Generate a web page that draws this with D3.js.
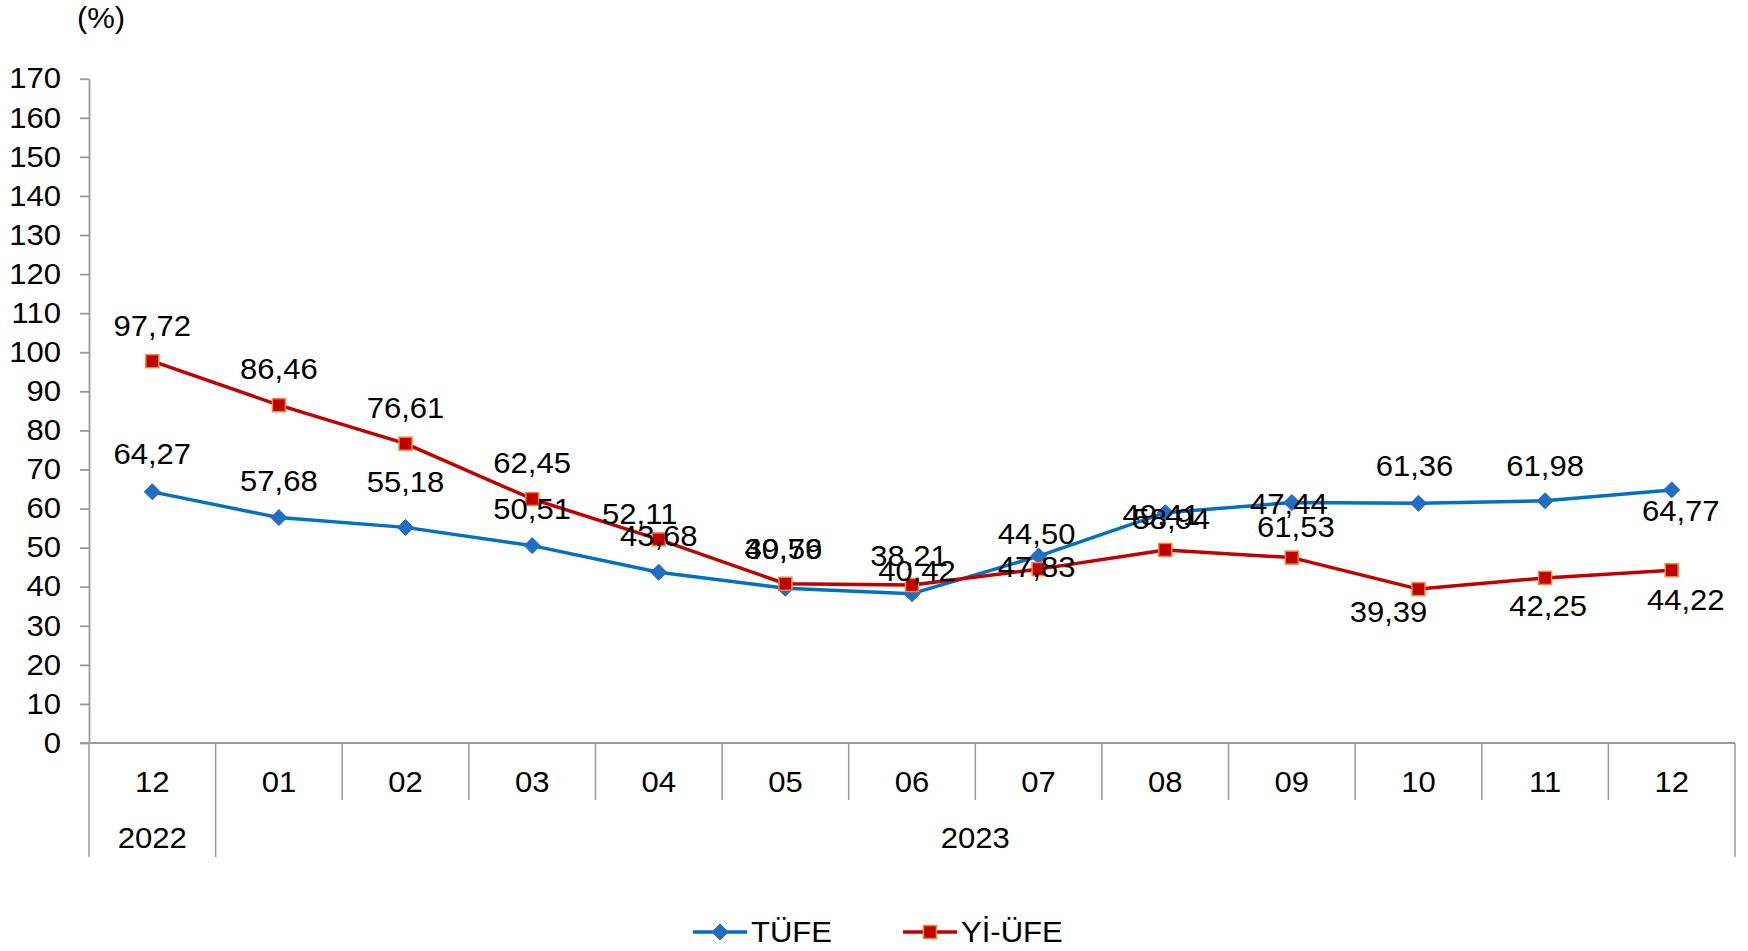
<!DOCTYPE html>
<html>
<head>
<meta charset="utf-8">
<script src="https://cdn.jsdelivr.net/npm/d3@7"></script>
<style>
  body { margin: 0; background: #fff; }
  text { font-family: "Liberation Sans", Arial, sans-serif; fill: #000; }
</style>
</head>
<body>
<svg id="chart" width="1748" height="951"></svg>
<script>
// data
const months = ["12", "01", "02", "03", "04", "05", "06", "07", "08", "09", "10", "11", "12"];
const years = [{ label: "2022", from: 0, to: 0 }, { label: "2023", from: 1, to: 12 }];
const tufe = [64.27, 57.68, 55.18, 50.51, 43.68, 39.59, 38.21, 47.83, 58.94, 61.53, 61.36, 61.98, 64.77];
const yiufe = [97.72, 86.46, 76.61, 62.45, 52.11, 40.76, 40.42, 44.50, 49.41, 47.44, 39.39, 42.25, 44.22];
const yTicks = d3.range(0, 171, 10);

// label nudges (px) copied from the original layout, where labels were moved by hand
const tufeLabelNudge = [[0,-38],[0,-37],[0,-46],[0,-37],[0,-36],[-2,-39],[-3,-38],[-2,11],[6,6],[4,24],[-4,-37],[0,-35],[9,21]];
const yiufeLabelNudge = [[0,-35],[0,-36],[0,-36],[0,-36],[-19,-26],[-2,-35],[5,-14],[-2,-35],[-4,-35],[-3,-54],[-30,23],[3,28],[14,30]];

const svg = d3.select("#chart");
const axisColor = "#9a9a9a";
const fontSize = "29px";
const stretch = 1.07; // original text is a bit wider than Liberation Sans

// move x/y into a transform so the glyphs can be widened
function widen(sel) {
  sel.each(function () {
    const t = d3.select(this);
    const tx = +t.attr("x") || 0, ty = +t.attr("y") || 0;
    t.attr("x", 0).attr("y", 0)
      .attr("transform", "translate(" + tx + "," + ty + ") scale(" + stretch + ",1)");
  });
}

const idx = months.map((d, i) => i);
const x = d3.scaleBand().domain(idx).range([89, 1735]).padding(0);
const y = d3.scaleLinear().domain([0, 170]).range([743, 78.7]);
const cx = i => x(i) + x.bandwidth() / 2;

// y axis
const yAxis = svg.append("g")
  .attr("transform", "translate(" + x.range()[0] + ",0)")
  .call(d3.axisLeft(y).tickValues(yTicks).tickSize(9).tickSizeOuter(0).tickPadding(19).tickFormat(d => d));
yAxis.selectAll("line, path").attr("stroke", axisColor).attr("stroke-width", 1.8);
yAxis.selectAll("text").style("font-size", fontSize).attr("fill", "#000").call(widen);

svg.append("text")
  .attr("x", 101).attr("y", 18)
  .attr("text-anchor", "middle").attr("dominant-baseline", "central")
  .style("font-size", fontSize)
  .text("(%)").call(widen);

// x axis baseline
svg.append("line")
  .attr("x1", x.range()[0] - 9).attr("x2", x.range()[1])
  .attr("y1", y(0)).attr("y2", y(0))
  .attr("stroke", axisColor).attr("stroke-width", 1.8);

// category separators: long ones mark the year boundaries
const yearEdges = new Set();
years.forEach(yr => { yearEdges.add(yr.from); yearEdges.add(yr.to + 1); });
svg.selectAll(".sep")
  .data(d3.range(months.length + 1))
  .enter().append("line")
  .attr("x1", i => x.range()[0] + i * x.step())
  .attr("x2", i => x.range()[0] + i * x.step())
  .attr("y1", y(0))
  .attr("y2", i => yearEdges.has(i) ? y(0) + 114 : y(0) + 57)
  .attr("stroke", axisColor).attr("stroke-width", 1.5);

svg.selectAll(".month")
  .data(months)
  .enter().append("text")
  .attr("x", (d, i) => cx(i))
  .attr("y", y(0) + 39)
  .attr("text-anchor", "middle").attr("dominant-baseline", "central")
  .style("font-size", fontSize)
  .text(d => d).call(widen);

svg.selectAll(".year")
  .data(years)
  .enter().append("text")
  .attr("x", d => (x(d.from) + x(d.to) + x.bandwidth()) / 2)
  .attr("y", y(0) + 95)
  .attr("text-anchor", "middle").attr("dominant-baseline", "central")
  .style("font-size", fontSize)
  .text(d => d.label).call(widen);

// series
const series = [
  { name: "TÜFE", values: tufe, nudge: tufeLabelNudge, color: "#0070C0", marker: "diamond" },
  { name: "Yİ-ÜFE", values: yiufe, nudge: yiufeLabelNudge, color: "#C00000", marker: "square" }
];

const line = d3.line().x((d, i) => cx(i)).y(d => y(d));

function drawMarker(g, type, px, py) {
  if (type === "diamond") {
    g.append("path")
      .attr("d", "M" + px + "," + (py - 8) + "L" + (px + 8) + "," + py + "L" + px + "," + (py + 8) + "L" + (px - 8) + "," + py + "Z")
      .attr("fill", "#1F6FC6").attr("stroke", "#2a62b8").attr("stroke-width", 1);
  } else {
    g.append("rect")
      .attr("x", px - 6.5).attr("y", py - 6.5)
      .attr("width", 13).attr("height", 13)
      .attr("fill", "#C00000").attr("stroke", "#F0883A").attr("stroke-width", 1.5);
  }
}

series.forEach(s => {
  svg.append("path")
    .datum(s.values)
    .attr("d", line)
    .attr("fill", "none")
    .attr("stroke", s.color)
    .attr("stroke-width", 3.5)
    .attr("stroke-linejoin", "round");
  const mg = svg.append("g");
  s.values.forEach((v, i) => drawMarker(mg, s.marker, cx(i), y(v)));
});

// data labels drawn over everything
series.forEach(s => {
  svg.selectAll(null)
    .data(s.values)
    .enter().append("text")
    .attr("x", (d, i) => cx(i) + s.nudge[i][0])
    .attr("y", (d, i) => y(d) + s.nudge[i][1])
    .attr("text-anchor", "middle").attr("dominant-baseline", "central")
    .style("font-size", fontSize)
    .text(d => d.toFixed(2).replace(".", ","))
    .call(widen);
});

// legend
const legend = svg.append("g").attr("transform", "translate(693,932)");
series.forEach((s, k) => {
  const lg = legend.append("g").attr("transform", "translate(" + (k * 210) + ",0)");
  lg.append("line").attr("x1", 0).attr("x2", 54).attr("y1", 0).attr("y2", 0)
    .attr("stroke", s.color).attr("stroke-width", 3.5);
  drawMarker(lg, s.marker, 27, 0);
  lg.append("text")
    .attr("x", 58).attr("y", 0)
    .attr("dominant-baseline", "central")
    .style("font-size", fontSize)
    .text(s.name).call(widen);
});
</script>
</body>
</html>
